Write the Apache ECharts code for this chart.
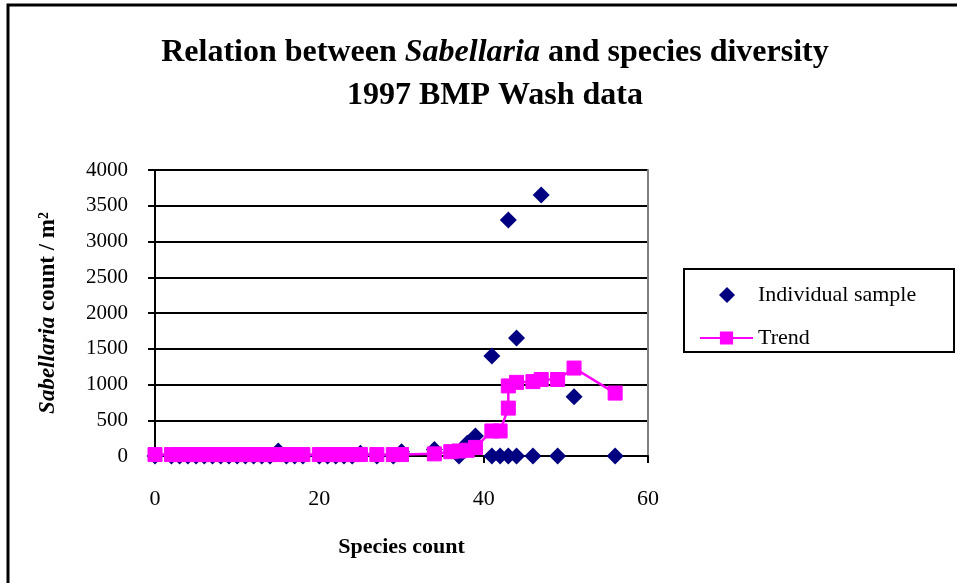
<!DOCTYPE html>
<html>
<head>
<meta charset="utf-8">
<script src="https://cdn.jsdelivr.net/npm/echarts@6/dist/echarts.min.js"></script>
<style>
  html, body { margin: 0; padding: 0; background: #fff; }
  #chart { width: 957px; height: 583px; }
</style>
</head>
<body>
<div id="chart"></div>
<script>
// individual samples (species count, Sabellaria count / m2)
const sampleX = [0, 2, 3, 4, 5, 6, 7, 8, 9, 10, 11, 12, 13, 14, 15, 16, 17, 18, 20, 21, 22, 23, 24, 25, 27, 29, 30, 34, 37, 38, 39, 41, 41, 42, 43, 43, 44, 44, 46, 47, 49, 51, 56];
const sampleY = [0, 0, 0, 0, 0, 0, 0, 0, 0, 0, 0, 0, 0, 0, 70, 0, 0, 0, 0, 0, 0, 0, 0, 40, 0, 0, 60, 90, 0, 180, 280, 1400, 0, 0, 0, 3300, 1650, 0, 0, 3650, 0, 830, 0];

// trend (running mean)
const trendX = [0, 2, 3, 4, 5, 6, 7, 8, 9, 10, 11, 12, 13, 14, 15, 16, 17, 18, 20, 21, 22, 23, 24, 25, 27, 29, 30, 34, 36, 37, 38, 39, 41, 42, 43, 43, 44, 46, 47, 49, 51, 56];
const trendY = [20, 20, 20, 20, 20, 20, 20, 20, 20, 20, 20, 20, 20, 20, 20, 20, 20, 20, 20, 20, 20, 20, 20, 20, 20, 20, 20, 30, 60, 70, 80, 120, 350, 350, 670, 980, 1030, 1040, 1070, 1070, 1230, 880];

const xTicks = [0, 20, 40, 60];
const yTicks = [0, 500, 1000, 1500, 2000, 2500, 3000, 3500, 4000];

const serif = "'Liberation Serif', 'Times New Roman', serif";
const legendText = { fontFamily: serif, fontSize: 22, color: '#000' };

const chart = echarts.init(document.getElementById('chart'));

chart.setOption({
  animation: false,
  backgroundColor: '#fff',
  textStyle: { fontFamily: serif, color: '#000' },
  title: {
    text: '{b|Relation between }{i|Sabellaria}{b| and species diversity}\n{b|1997 BMP Wash data}',
    left: 495,
    top: 31,
    padding: 0,
    textAlign: 'center',
    textStyle: {
      rich: {
        b: { fontFamily: serif, fontWeight: 'bold', fontSize: 32, lineHeight: 43, color: '#000' },
        i: { fontFamily: serif, fontWeight: 'bold', fontStyle: 'italic', fontSize: 32, lineHeight: 43, color: '#000' }
      }
    }
  },
  legend: [
    {
      left: 719,
      top: 284,
      padding: 0,
      itemWidth: 16,
      itemHeight: 16,
      itemGap: 0,
      textStyle: Object.assign({}, legendText, { padding: [0, 0, 0, 18] }),
      data: [{ name: 'Individual sample', icon: 'diamond' }]
    },
    {
      left: 699,
      top: 327,
      padding: 0,
      itemWidth: 53,
      itemHeight: 14,
      itemGap: 0,
      textStyle: legendText,
      data: [{ name: 'Trend' }]
    }
  ],
  grid: { left: 155, right: 309, top: 170, bottom: 127, show: false },
  xAxis: {
    type: 'value',
    min: xTicks[0],
    max: xTicks[xTicks.length - 1],
    interval: 20,
    name: 'Species count',
    nameLocation: 'middle',
    nameGap: 80,
    nameTextStyle: { fontFamily: serif, fontWeight: 'bold', fontSize: 22, color: '#000' },
    axisLine: { lineStyle: { color: '#000', width: 2 } },
    axisTick: { inside: false, length: 7, lineStyle: { color: '#000', width: 2 } },
    axisLabel: { margin: 32, fontFamily: serif, fontSize: 22, color: '#000' },
    splitLine: { show: false }
  },
  yAxis: [
    {
      type: 'value',
      min: yTicks[0],
      max: yTicks[yTicks.length - 1],
      interval: 500,
      name: '{i|Sabellaria} count / m²',
      nameLocation: 'middle',
      nameGap: 95,
      nameRotate: 90,
      nameTextStyle: {
        fontFamily: serif, fontWeight: 'bold', fontSize: 23, color: '#000',
        rich: {
          i: { fontFamily: serif, fontWeight: 'bold', fontStyle: 'italic', fontSize: 23, color: '#000' }
        }
      },
      axisLine: { show: true, lineStyle: { color: '#000', width: 2 } },
      axisTick: { show: true, inside: false, length: 7, lineStyle: { color: '#000', width: 2 } },
      axisLabel: { margin: 27, fontFamily: serif, fontSize: 21, color: '#000', formatter: (v) => String(v) },
      splitLine: { show: true, lineStyle: { color: '#000', width: 2 } }
    },
    {
      // grey plot border on the right
      type: 'value',
      position: 'right',
      min: yTicks[0],
      max: yTicks[yTicks.length - 1],
      axisLine: { show: true, lineStyle: { color: '#808080', width: 2 } },
      axisTick: { show: false },
      axisLabel: { show: false },
      splitLine: { show: false }
    }
  ],
  graphic: [
    {
      type: 'rect',
      silent: true,
      z: -1,
      shape: { x: 8, y: 5, width: 2000, height: 2000 },
      style: { fill: 'none', stroke: '#000', lineWidth: 3 }
    },
    {
      // legend box
      type: 'rect',
      silent: true,
      z: -1,
      shape: { x: 684, y: 269, width: 270, height: 83 },
      style: { fill: '#fff', stroke: '#000', lineWidth: 2 }
    }
  ],
  series: [
    {
      name: 'Individual sample',
      type: 'scatter',
      symbol: 'diamond',
      symbolSize: 17,
      itemStyle: { color: '#000080', opacity: 1 },
      data: sampleX.map((x, i) => [x, sampleY[i]])
    },
    {
      name: 'Trend',
      type: 'line',
      symbol: 'rect',
      symbolSize: 14,
      showAllSymbol: true,
      itemStyle: { color: '#FF00FF', borderColor: '#FF00FF', borderWidth: 1 },
      lineStyle: { color: '#FF00FF', width: 2.5 },
      data: trendX.map((x, i) => [x, trendY[i]])
    }
  ]
});
</script>
</body>
</html>
